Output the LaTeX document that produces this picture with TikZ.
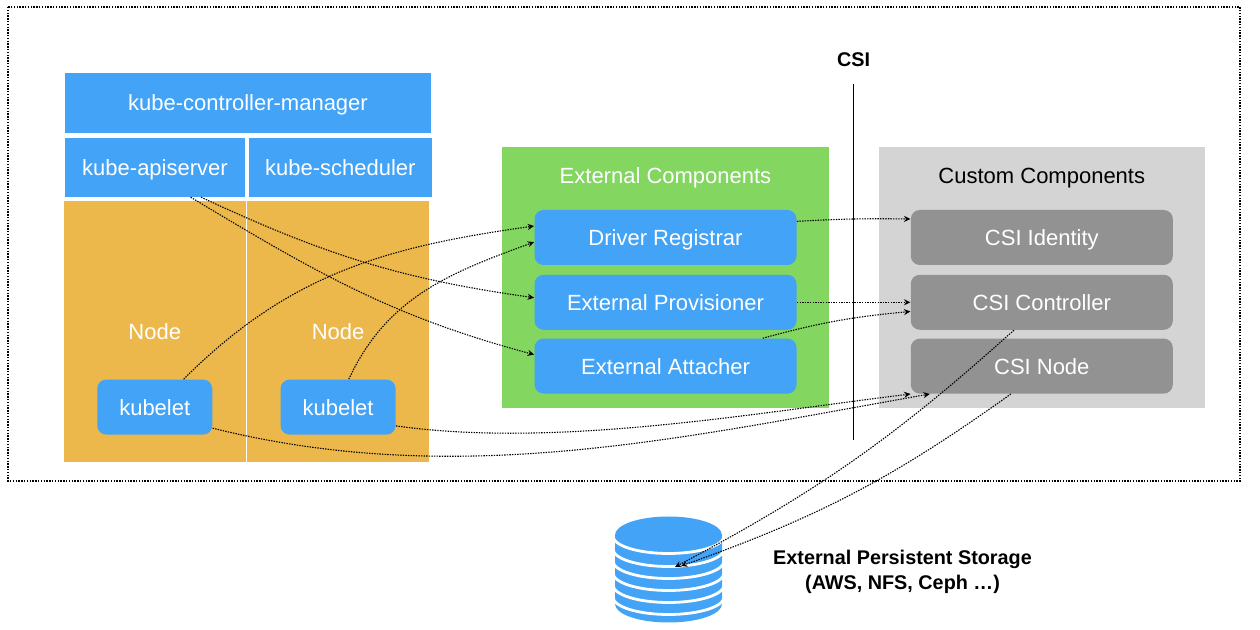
\documentclass[tikz,border=0pt]{standalone}
\usepackage{fontspec}
\setmainfont{Liberation Sans}
\usepackage{tikz}
\usetikzlibrary{positioning}
\usetikzlibrary{arrows.meta}
\definecolor{kubeblue}{HTML}{42A3F7}
\definecolor{nodeorange}{HTML}{EDB84B}
\definecolor{extgreen}{HTML}{83D65F}
\definecolor{customgrey}{HTML}{D4D4D4}
\definecolor{csigrey}{HTML}{929292}
\tikzset{%
  flatbox/.style = {rectangle,fill=kubeblue,text=white,inner sep=0pt,text height=8pt,text depth=0pt,
        minimum width=90pt,minimum height=29.5pt},
  bluebox/.style = {rectangle,rounded corners=4.5pt,fill=kubeblue,text=white,inner sep=0pt,
        text height=8pt,text depth=0pt,minimum width=131pt,minimum height=27.5pt},
  greybox/.style = {bluebox,fill=csigrey},
  nodebox/.style = {rectangle,fill=nodeorange,text=white,inner sep=0pt,text height=8pt,text depth=0pt,
        minimum width=90.75pt,minimum height=130.5pt},
  groupbox/.style = {rectangle,inner sep=0pt,
        minimum width=163.25pt,minimum height=130.5pt},
  grouplabel/.style = {inner sep=0pt,text height=8pt,text depth=0pt},
  blacklabel/.style = {inner sep=0pt,font=\bfseries\fontsize{9.9}{12.5}\selectfont,align=center},
  dotarrow/.style = {-{Stealth[length=3.2pt,width=3pt]},line width=0.55pt,dash pattern=on 0.7pt off 0.6pt}
}

\begin{document}
\begin{tikzpicture}[x=0.5pt,y=-0.5pt,font=\fontsize{11}{13}\selectfont]
                    \useasboundingbox (0,0) rectangle (1260,630);
                    \draw[line width=0.6pt,dash pattern=on 0.7pt off 0.7pt] (8,7) rectangle (1240,481);

                    \node[flatbox,minimum width=183pt,minimum height=30pt] (manager) at (248,103) {kube-controller-manager};
                    \node[flatbox] (apiserver) [below right=2pt and 0pt of manager.south west] {kube-apiserver};
                    \node[flatbox,minimum width=91.5pt] (scheduler) [right=1.5pt of apiserver] {kube-scheduler};
                    \node[nodebox] (node1) [below right=1.5pt and -0.5pt of apiserver.south west] {Node};
                    \node[nodebox] (node2) [right=0.5pt of node1] {Node};
                    \node[bluebox,minimum width=57.5pt] (kubelet1) [above=13.5pt of node1.south] {kubelet};
                    \node[bluebox,minimum width=57.5pt] (kubelet2) [above=13.5pt of node2.south] {kubelet};

                    \node[groupbox,fill=extgreen] (external) at (665.5,277.5) {};
                    \node[bluebox] (driver) [below=31.5pt of external.north] {Driver Registrar};
                    \node[bluebox] (provisioner) [below=4.5pt of driver] {External Provisioner};
                    \node[bluebox] (attacher) [below=4pt of provisioner] {External Attacher};
                    \node[grouplabel,text=white] (externallabel) [above=13pt of driver] {External Components};

                    \node[groupbox,fill=customgrey] (custom) [right=24.5pt of external] {};
                    \node[greybox] (identity) [below=31.5pt of custom.north] {CSI Identity};
                    \node[greybox] (controller) [below=4.5pt of identity] {CSI Controller};
                    \node[greybox] (csinode) [below=4pt of controller] {CSI Node};
                    \node[grouplabel] (customlabel) [above=13pt of identity] {Custom Components};

                    \coordinate (csitop) at (853,84);
                    \coordinate (csibottom) at (853,440);
                    \node[blacklabel] (csi) at (853.5,60) {CSI};
                    \draw[line width=0.45pt] (csitop) -- (csibottom);

                    % storage stack
                    \fill[kubeblue] (615,535) -- (615,604) arc[start angle=180,end angle=0,x radius=53.5,y radius=18.5]
                        -- (722,535) arc[start angle=0,end angle=-180,x radius=53.5,y radius=18.5] -- cycle;
                    \foreach \y in {536,549,561,573,585,597}
                        \draw[white,line width=1.4pt] (613,\y) arc[start angle=180,end angle=0,x radius=55.5,y radius=17.5];
                    \node[blacklabel] (storage) at (902.5,572) {External Persistent Storage\\(AWS, NFS, Ceph \ldots)};
                    \coordinate (storagea) at (675,567);
                    \coordinate (storageb) at (681,566);

                    \draw[dotarrow] (apiserver.-40) to[out=-31,in=165] (attacher.175);
                    \draw[dotarrow] (apiserver.-33) to[out=-25,in=172] (provisioner.178);
                    \draw[dotarrow] (kubelet1.44) to[out=45,in=188] (driver.175);
                    \draw[dotarrow] (kubelet2.69) to[out=65,in=200] (driver.182);
                    \draw[dotarrow] (kubelet2.-18) to[out=-8,in=187,looseness=0.8] (csinode.192);
                    \draw[dotarrow] (kubelet1.-20) to[out=-14,in=190,looseness=0.9] (csinode.194);

                    \draw[dotarrow] (driver.7) to[bend left=2] (identity.172);
                    \draw[dotarrow] (provisioner.east) -- (controller.west);
                    \draw[dotarrow] (attacher.16) to[bend left=5] (controller.184.4);
                    \draw[dotarrow] (controller.225.5) to[bend left=7] (storagea);
                    \draw[dotarrow] (csinode.222.5) to[bend left=8] (storageb);
                 \end{tikzpicture}
\end{document}
